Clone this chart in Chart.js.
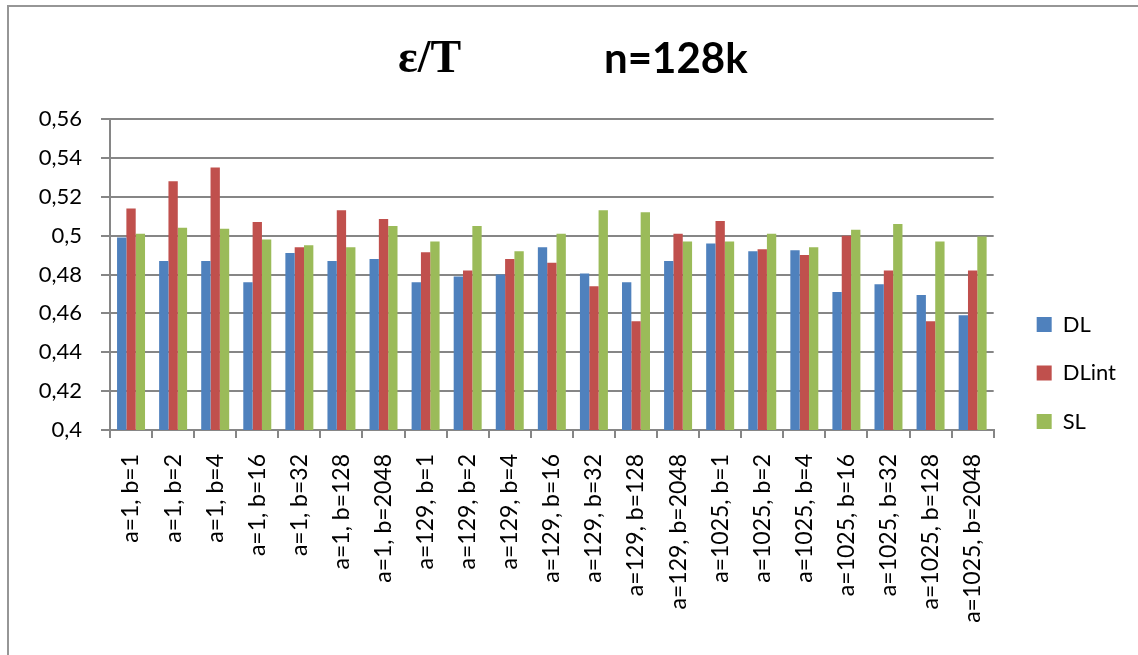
<!DOCTYPE html>
<html>
<head>
<meta charset="utf-8">
<script src="https://cdn.jsdelivr.net/npm/chart.js@4.4.1/dist/chart.umd.min.js"></script>
<style>
  html, body { margin: 0; padding: 0; background: #fff; }
  #wrap { position: relative; width: 1138px; height: 655px; overflow: hidden; }
  #frame { position: absolute; left: 7px; top: 5px; width: 1200px; height: 700px;
           border-top: 2px solid #969696; border-left: 2px solid #969696; }
  canvas { position: absolute; left: 0; top: 0; }
  .ttl { position: absolute; line-height: 42px; font-weight: bold; color: #000; white-space: nowrap; }
  #t1 { left: 398px; top: 36px; font-size: 46px; font-family: 'Liberation Serif', 'DejaVu Serif', serif; }
  #t2 { left: 604px; top: 36px; font-size: 42px; font-family: Lato, 'Liberation Sans', sans-serif; }
</style>
</head>
<body>
<div id="wrap">
  <div id="frame"></div>
  <canvas id="c" width="1138" height="655"></canvas>
  <div class="ttl" id="t1">ε/T</div>
  <div class="ttl" id="t2">n=128k</div>
</div>
<script>
const categories = [
  'a=1, b=1', 'a=1, b=2', 'a=1, b=4', 'a=1, b=16', 'a=1, b=32', 'a=1, b=128', 'a=1, b=2048',
  'a=129, b=1', 'a=129, b=2', 'a=129, b=4', 'a=129, b=16', 'a=129, b=32', 'a=129, b=128', 'a=129, b=2048',
  'a=1025, b=1', 'a=1025, b=2', 'a=1025, b=4', 'a=1025, b=16', 'a=1025, b=32', 'a=1025, b=128', 'a=1025, b=2048'
];
const seriesNames = ['DL', 'DLint', 'SL'];
const dlValues = [0.499, 0.487, 0.487, 0.476, 0.491, 0.487, 0.488,
                  0.476, 0.479, 0.480, 0.494, 0.4805, 0.476, 0.487,
                  0.496, 0.492, 0.4925, 0.471, 0.475, 0.4695, 0.459];
const dlintValues = [0.514, 0.528, 0.535, 0.507, 0.494, 0.513, 0.5085,
                     0.4915, 0.482, 0.488, 0.486, 0.474, 0.456, 0.501,
                     0.5075, 0.493, 0.490, 0.500, 0.482, 0.456, 0.482];
const slValues = [0.501, 0.504, 0.5035, 0.498, 0.495, 0.494, 0.505,
                  0.497, 0.505, 0.492, 0.501, 0.513, 0.512, 0.497,
                  0.497, 0.501, 0.494, 0.503, 0.506, 0.497, 0.4996];
const yMin = 0.4, yMax = 0.56, yStep = 0.02;
const colors = ['#4F81BD', '#C0504D', '#9BBB59'];

const gridColor = '#868686';
const axisFont = { family: 'Lato, "Liberation Sans", sans-serif', size: 22 };

new Chart(document.getElementById('c'), {
  type: 'bar',
  data: {
    labels: categories,
    datasets: [dlValues, dlintValues, slValues].map((vals, i) => ({
      label: seriesNames[i],
      data: vals,
      backgroundColor: colors[i],
      borderWidth: 0,
      categoryPercentage: 0.665,
      barPercentage: 1.0
    }))
  },
  options: {
    responsive: false,
    devicePixelRatio: 1,
    animation: false,
    layout: { padding: { top: 119, bottom: 28, left: 0, right: 12 } },
    plugins: {
      title: { display: false },
      tooltip: { enabled: false },
      legend: {
        position: 'right',
        align: 'center',
        labels: {
          boxWidth: 15,
          boxHeight: 15,
          padding: 26.5,
          color: '#000',
          font: { family: 'Lato, "Liberation Sans", sans-serif', size: 22 }
        }
      }
    },
    scales: {
      x: {
        grid: { display: true, drawOnChartArea: false, drawTicks: true, tickLength: 8, color: gridColor, lineWidth: 2, offset: true },
        border: { display: true, color: gridColor, width: 2 },
        ticks: {
          autoSkip: false, minRotation: 90, maxRotation: 90, padding: 16,
          color: '#000', font: { family: 'Lato, "Liberation Sans", sans-serif', size: 23 }
        },
        afterFit(s) { s.height = 197; }
      },
      y: {
        min: yMin, max: yMax,
        grid: { color: gridColor, lineWidth: 2, tickLength: 9, drawTicks: true },
        border: { display: true, color: gridColor, width: 2 },
        ticks: {
          stepSize: yStep, padding: 19, color: '#000', font: axisFont,
          callback: v => String(Number(v.toFixed(2))).replace('.', ',')
        },
        afterFit(s) { s.width = 110; }
      },
      gap: {
        type: 'linear', position: 'right', display: true,
        grid: { display: false, drawTicks: false },
        border: { display: false },
        ticks: { display: false },
        afterFit(s) { s.width = 16.5; }
      }
    }
  }
});
</script>
</body>
</html>
